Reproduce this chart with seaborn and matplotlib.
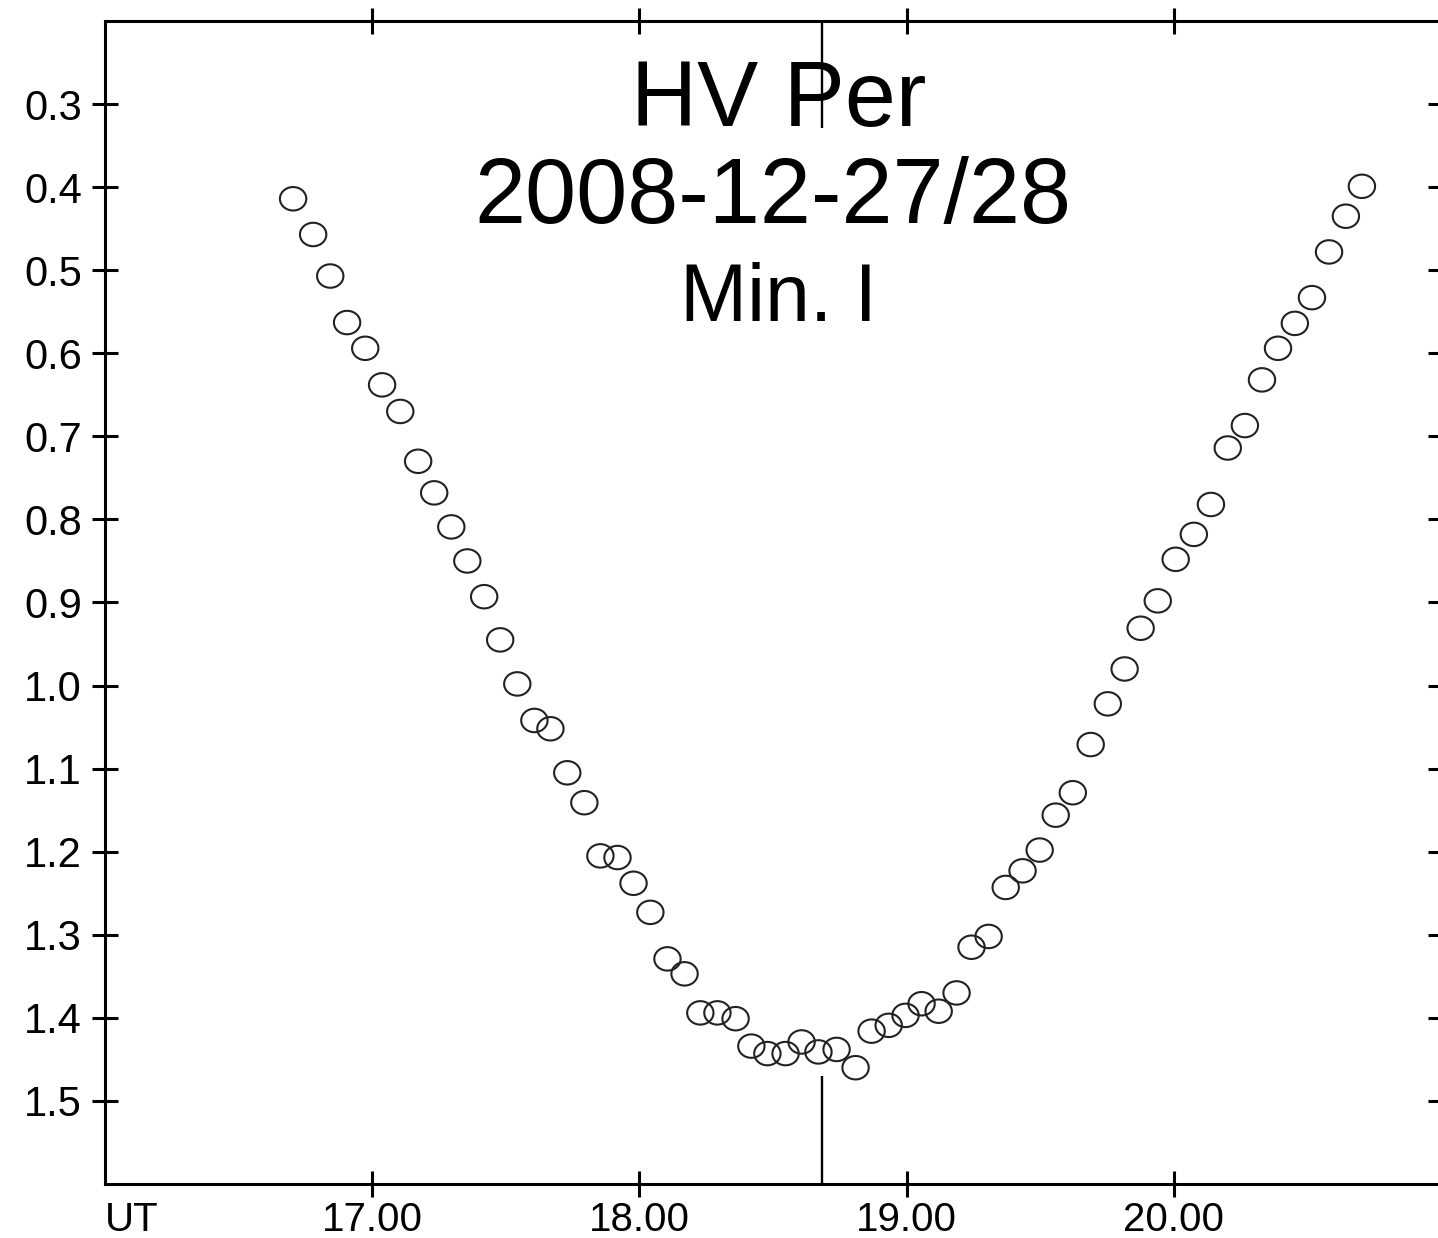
import numpy as np
import matplotlib
matplotlib.use("Agg")
import matplotlib.pyplot as plt
from matplotlib.path import Path
import pandas as pd
import seaborn as sns

# ---- data ----
ut_hours = [16.704, 16.779, 16.843, 16.906, 16.974, 17.037, 17.105, 17.172, 17.232, 17.296,
            17.356, 17.419, 17.479, 17.543, 17.607, 17.667, 17.730, 17.794, 17.854, 17.918,
            17.978, 18.041, 18.105, 18.169, 18.228, 18.292, 18.360, 18.419, 18.479, 18.547,
            18.607, 18.670, 18.738, 18.809, 18.869, 18.933, 18.996, 19.056, 19.120, 19.187,
            19.243, 19.307, 19.371, 19.434, 19.498, 19.558, 19.622, 19.689, 19.753, 19.816,
            19.876, 19.940, 20.007, 20.075, 20.139, 20.202, 20.266, 20.330, 20.390, 20.453,
            20.517, 20.581, 20.644, 20.704]
delta_mag = [0.414, 0.457, 0.507, 0.563, 0.594, 0.638, 0.670, 0.730, 0.768, 0.809,
             0.850, 0.893, 0.945, 0.998, 1.042, 1.052, 1.105, 1.141, 1.205, 1.207,
             1.238, 1.273, 1.329, 1.347, 1.394, 1.394, 1.401, 1.434, 1.443, 1.443,
             1.429, 1.441, 1.438, 1.460, 1.416, 1.409, 1.397, 1.383, 1.392, 1.370,
             1.315, 1.302, 1.243, 1.223, 1.198, 1.156, 1.129, 1.071, 1.022, 0.980,
             0.931, 0.898, 0.848, 0.818, 0.782, 0.714, 0.687, 0.632, 0.594, 0.564,
             0.533, 0.478, 0.435, 0.399]
t_minimum = 18.685
title_lines = ["HV Per", "2008-12-27/28", "Min. I"]
x_ticks = [17, 18, 19, 20]
x_ticklabels = ["17.00", "18.00", "19.00", "20.00"]
y_ticks = [0.3, 0.4, 0.5, 0.6, 0.7, 0.8, 0.9, 1.0, 1.1, 1.2, 1.3, 1.4, 1.5]
x_axis_label = "UT"

sns.set_style("ticks")
plt.rcParams["font.family"] = ["Liberation Sans", "DejaVu Sans"]
plt.rcParams["text.color"] = "black"
plt.rcParams["axes.labelcolor"] = "black"
plt.rcParams["xtick.color"] = "black"
plt.rcParams["ytick.color"] = "black"

fig = plt.figure(figsize=(14.38, 12.38), dpi=100)
ax = fig.add_axes([105 / 1438, 54 / 1238, 1336 / 1438, 1163 / 1238])

theta = np.linspace(0, 2 * np.pi, 73)
ellipse = Path(np.column_stack([np.cos(theta), 0.89 * np.sin(theta)]), closed=True)

df = pd.DataFrame({"UT": ut_hours, "dmag": delta_mag})
sns.scatterplot(data=df, x="UT", y="dmag", marker=ellipse, s=360, ax=ax,
                facecolor="none", edgecolor="#222222", linewidth=1.5, legend=False)
for coll in ax.collections:
    coll.set_facecolor("none")
    coll.set_edgecolor("#222222")
    coll.set_linewidth(1.5)

ax.set_xlim(16, 21)
ax.set_ylim(1.6, 0.2)

ax.vlines([t_minimum, t_minimum], [0.2, 1.47], [0.329, 1.6], colors="black", lw=1.7)

ax.set_xticks(x_ticks)
ax.set_xticklabels(x_ticklabels)
ax.set_yticks(y_ticks)
ax.set_yticklabels([f"{v:.1f}" for v in y_ticks])
ax.set_xlabel("")
ax.set_ylabel("")

for sp in ax.spines.values():
    sp.set_visible(True)
    sp.set_linewidth(2.2)
    sp.set_color("black")

ax.tick_params(axis="both", direction="inout", length=19.4, width=2.2, colors="black",
               labelcolor="black", labelsize=30, top=True, right=True,
               labeltop=False, labelright=False)
ax.tick_params(axis="y", pad=7)
ax.tick_params(axis="x", pad=2.5, labelsize=29)

ax.annotate(x_axis_label, xy=(0, 0), xycoords="axes fraction", xytext=(0, -(9.7 + 2.5)),
            textcoords="offset points", ha="left", va="top", fontsize=29, color="black")

ax.text(18.52, 0.3264, title_lines[0], ha="center", va="baseline", fontsize=66, color="black")
ax.text(18.50, 0.443, title_lines[1], ha="center", va="baseline", fontsize=66, color="black")
ax.text(18.52, 0.5607, title_lines[2], ha="center", va="baseline", fontsize=58, color="black")

fig.savefig("out.png", dpi=100)
